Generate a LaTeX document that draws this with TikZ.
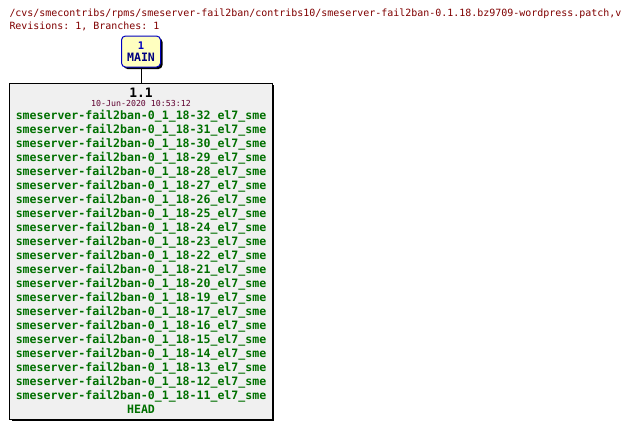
\documentclass[tikz,border=0pt]{standalone}
\usepackage{fontspec}
\setmonofont{DejaVu Sans Mono}
\usetikzlibrary{positioning,shadows}
\definecolor{TitleRed}{HTML}{800000}
\definecolor{TagGreen}{HTML}{007000}
\definecolor{DateWine}{HTML}{600030}
\definecolor{RevGray}{HTML}{F0F0F0}
\definecolor{BranchYellow}{HTML}{FFFFC0}
\definecolor{BranchBlue}{HTML}{0000C0}
\definecolor{BranchNavy}{HTML}{000080}

\begin{document}
\begin{tikzpicture}[x=1bp, y=-1bp, inner sep=0pt, line width=1bp,
    shadowed/.style={drop shadow={shadow xshift=2bp, shadow yshift=-2bp, fill=black, opacity=1}},
    tagtext/.style={anchor=base, text=TagGreen, font=\fontsize{11.6}{12}\selectfont\ttfamily\bfseries}]
    \useasboundingbox[fill=white] (0,0) rectangle (632,429);

    % title lines
    \node[anchor=base west, text=TitleRed, font=\fontsize{10}{12}\selectfont\ttfamily] (title) at (9,16.5) {/cvs/smecontribs/rpms/smeserver-fail2ban/contribs10/smeserver-fail2ban-0.1.18.bz9709-wordpress.patch,v};
    \node[anchor=base west, text=TitleRed, font=\fontsize{10}{12}\selectfont\ttfamily] (info) at (9,29) {Revisions: 1, Branches: 1};

    % branch box
    \node[draw=BranchBlue, fill=BranchYellow, rounded corners=4bp, minimum width=39bp, minimum height=31bp, shadowed] (main) at (141,51.5) {};
    \node[anchor=base, text=BranchBlue, font=\fontsize{10.5}{11}\selectfont\ttfamily\bfseries] (mainrev) at (141,49) {1};
    \node[anchor=base, text=BranchNavy, font=\fontsize{11.6}{12}\selectfont\ttfamily\bfseries] (mainname) at (141,61) {MAIN};

    % revision box
    \node[draw, fill=RevGray, minimum width=262bp, minimum height=336bp, shadowed] (rev) at (141,251) {};
    \draw (main.south) -- (rev.north);
    \node[anchor=base, font=\fontsize{13}{14}\selectfont\ttfamily\bfseries] (revnum) at (141,97) {1.1};
    \node[anchor=base, text=DateWine, font=\fontsize{8.3}{9}\selectfont\ttfamily] (revdate) at (141,106.5) {10-Jun-2020 10:53:12};
    \foreach \t [count=\i from 0] in {32,31,30,29,28,27,26,25,24,23,22,21,20,19,17,16,15,14,13,12,11}
      \node[tagtext] (tag\t) at (141,119+14*\i) {smeserver-fail2ban-0\_1\_18-\t\_el7\_sme};
    \node[tagtext] (head) at (141,413) {HEAD};
\end{tikzpicture}
\end{document}
